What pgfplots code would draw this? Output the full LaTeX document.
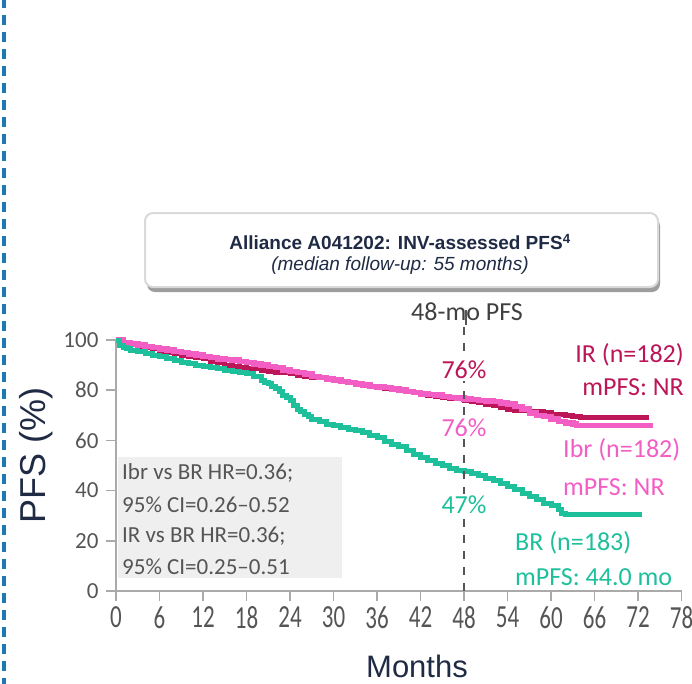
\documentclass[border=0pt]{standalone}
\usepackage{pgfplots}
\pgfplotsset{compat=1.18}
\usepackage{fontspec}
\setmainfont{Carlito}
\newfontfamily\arial{Liberation Sans}
\usetikzlibrary{shadows}
\definecolor{IRc}{RGB}{188,22,88}
\definecolor{IBc}{RGB}{242,94,196}
\definecolor{BRc}{RGB}{30,192,156}
\definecolor{navy}{RGB}{31,42,68}
\definecolor{txtgray}{RGB}{85,85,85}
\definecolor{axgray}{RGB}{170,170,170}
\definecolor{dashblue}{RGB}{30,120,180}
\definecolor{boxgray}{RGB}{239,239,239}
\begin{document}
\begin{tikzpicture}[x=1pt,y=1pt]
\path[use as bounding box] (0,0) rectangle (692,-683);
% left dashed border
\draw[dashblue, line width=4pt, dash pattern=on 10pt off 7pt] (4,2) -- (4,-690);
% HR box
\fill[boxgray] (118,-457) rectangle (342,-578);
\begin{axis}[
  at={(116pt,-591pt)}, anchor=origin,
  scale only axis, width=565.5pt, height=251pt,
  xmin=0, xmax=78, ymin=0, ymax=100,
  axis lines=left,
  axis line style={axgray, line width=1.5pt, -},
  xtick={0,6,...,78}, ytick={0,20,...,100},
  tick align=outside, major tick length=10pt,
  tick style={axgray, line width=1.5pt},
  every tick label/.append style={font=\fontsize{23}{23}\selectfont, text=txtgray},
  /pgf/number format/assume math mode=true,
  xticklabel={\scalebox{1}[1.4]{\pgfmathprintnumber{\tick}}},
  xticklabel style={yshift=-2pt},
  yticklabel style={xshift=-4pt},
  clip=false,
]
\addplot[IRc, line width=5pt, const plot] coordinates {
(0,100) (1,99) (2,98.5) (3,97.5) (4,97) (5,96.5) (6,95.5) (7,95) (8,94.5) (9,94) (10,93.5) (11,93) (12,92.5) (13,91.5) (14,91) (15,90) (16,89.5) (17,89) (18,88.8) (19,88.5) (20,88) (21,87.5) (22,87) (24,86.5) (25,86) (26,85.5) (27,85.2) (28,85) (29,84.5) (30,84) (31,83.5) (32,83) (33,82.5) (34,82) (35,81.5) (36,81) (37,80.5) (38,80.2) (39,80) (40,79.5) (41,79) (42,78.5) (43,78) (44,77.5) (45,77) (46,76.8) (47,76.5) (48,76) (49,75.5) (50,75) (51,74.5) (52,74) (53,73.2) (54,72.5) (55,72) (57,71.5) (59,71) (60,70.5) (62,70) (63,69.5) (64,69) (73.5,69)};
\addplot[IBc, line width=5.5pt, const plot] coordinates {
(0,100) (1,99) (2,98.5) (3,98) (4,97.5) (5,97) (6,96.5) (7,96) (8,95.5) (9,95) (10,94.5) (11,94) (12,93.5) (13,93) (14,92.5) (15,92.2) (16,92) (17,91.5) (18,91) (19,90.5) (20,90) (21,89.5) (22,89) (23,88) (24,87.5) (25,87) (26,86.5) (27,85.5) (28,85) (29,84.5) (30,84) (31,83.5) (32,83) (33,82.5) (34,82) (35,81.5) (36,81.3) (37,81) (38,80.5) (39,80) (40,79.5) (41,79) (42,78.5) (43,78.2) (44,78) (45,77.5) (46,77) (47,76.8) (48,76.5) (49,76.2) (50,76) (51,75.8) (52,75.5) (53,75) (54,74.5) (55,73.5) (56,72.5) (57,71) (58,70) (59,69.5) (60,68.5) (61,67.5) (62,67) (63,66.5) (63.5,66) (74,66)};
\addplot[BRc, line width=5pt, const plot] coordinates {
(0,100) (0.5,98) (1,97) (1.5,96.5) (2,96) (3,95.5) (4,94.5) (5,94) (6,93.5) (7,92.5) (8,92) (9,91) (10,90.5) (11,90) (12,89.5) (13,89) (14,88.5) (15,88) (16,87.5) (17,87) (18,86.5) (19,85.5) (20,84) (20.5,83) (21,82.5) (21.5,81.5) (22,80.5) (22.5,79.5) (23,78) (23.5,77) (24,76) (24.5,74) (25,72.5) (25.5,71.5) (26,70.5) (26.5,69.5) (27,68.5) (28,67.5) (29,66.5) (30,66) (31,65) (32,64.5) (33,64) (34,63) (35,62) (36,61) (37,59.5) (38,58.5) (39,57.5) (40,56) (41,54.5) (42,53) (43,52) (44,51) (45,50) (46,49) (47,48) (48,47.5) (49,47) (50,46) (51,45) (52,44) (53,43) (54,41.5) (55,40.5) (56,39) (57,37.5) (58,36.5) (59,35) (60,34) (61,32.5) (61.5,31) (62,30.5) (72.5,30.5)};
\draw[txtgray, line width=1.5pt, dash pattern=on 8pt off 8pt] (axis cs:48,0) -- (axis cs:48,112);
\end{axis}
% HR text
\begin{scope}[every node/.style={anchor=west, inner sep=0pt, text=txtgray, font=\fontsize{23}{23}\selectfont}]
\node at (122,-473) {Ibr vs BR HR=0.36;};
\node at (122,-505) {95\% CI=0.26--0.52};
\node at (122,-536) {IR vs BR HR=0.36;};
\node at (122,-567) {95\% CI=0.25--0.51};
\end{scope}
% annotations
\begin{scope}[every node/.style={inner sep=0pt, font=\fontsize{26}{26}\selectfont}]
\node[text=black!75, fill=white, inner xsep=1pt] at (467,-312) {48-mo PFS};
\node[text=IRc, fill=white, inner sep=2pt] at (464,-370) {76\%};
\node[text=IBc, fill=white, inner sep=2pt] at (464,-428) {76\%};
\node[text=BRc, fill=white, inner sep=2pt] at (464,-505) {47\%};
\node[text=IRc, anchor=east] at (684,-355) {IR (n=182)};
\node[text=IRc, anchor=east] at (684,-387) {mPFS: NR};
\node[text=IBc, anchor=west] at (563,-450) {Ibr (n=182)};
\node[text=IBc, anchor=west] at (563,-487) {mPFS: NR};
\node[text=BRc, anchor=west] at (515,-543) {BR (n=183)};
\node[text=BRc, anchor=west] at (515,-577) {mPFS: 44.0 mo};
\end{scope}
\draw[txtgray, line width=1.5pt] (466,-310) -- (466,-325);
% title box
\draw[rounded corners=8pt, draw=black!15, line width=2pt, fill=white,
  drop shadow={shadow xshift=2pt, shadow yshift=-5pt, fill=black!55, opacity=0.7}]
  (145,-213) rectangle (658,-287);
\node[text=navy, font=\arial\bfseries\fontsize{19}{19}\selectfont, inner sep=0pt] at (400,-242) {Alliance A041202: INV-assessed PFS\textsuperscript{4}};
\node[text=navy, font=\arial\itshape\fontsize{19}{19}\selectfont, inner sep=0pt] at (400,-266) {(median follow-up: 55 months)};
% axis labels
\node[text=navy, font=\arial\fontsize{36}{36}\selectfont, rotate=90, inner sep=0pt] at (36,-455) {PFS (\%)};
\node[text=navy, font=\arial\fontsize{31}{31}\selectfont, inner sep=0pt] at (417,-666) {Months};
\end{tikzpicture}
\end{document}
